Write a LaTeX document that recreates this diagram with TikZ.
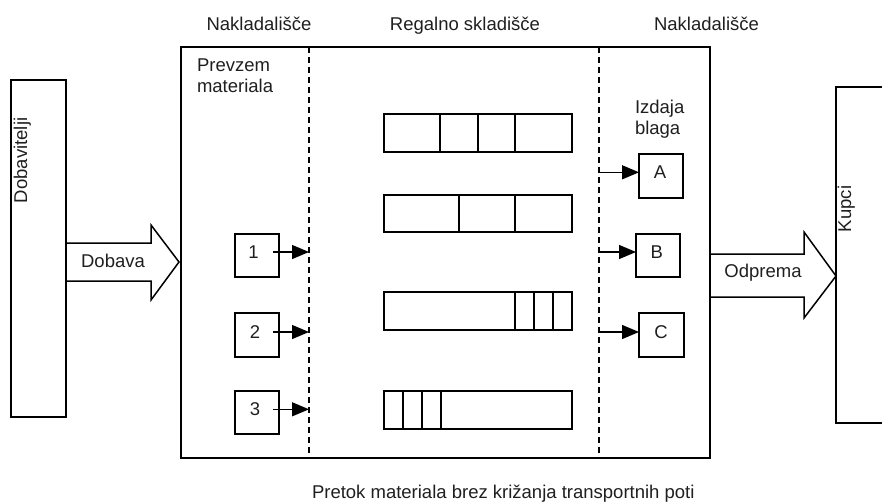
\documentclass[tikz,border=0pt]{standalone}
\usepackage{fontspec}
\setmainfont{Liberation Sans}
\usetikzlibrary{arrows.meta,calc}
\begin{document}
\begin{tikzpicture}[x=1pt,y=-1pt,
  box/.style={draw, line width=1.5pt, inner sep=0pt, outer sep=0pt},
  lbl/.style={inner sep=0pt, outer sep=0pt, font=\fontsize{18.5}{21}\selectfont, text=black!88},
  sepline/.style={line width=1.5pt, dash pattern=on 6pt off 4pt},
  arr/.style={line width=1.3pt, -{Triangle[length=17pt,width=14pt]}},
  blockarrow/.style={line width=1.5pt, line join=miter}]
\useasboundingbox (0,0) rectangle (882,503);
\clip (0,0) rectangle (882,503);
% outer boxes
\node[box, minimum width=55pt, minimum height=337pt] (dob) at (38.5,248.5) {};
\node[box, minimum width=529pt, minimum height=411pt] (main) at (445.5,252.5) {};
\node[box, minimum width=64pt, minimum height=336pt] (kup) at (868,255) {};
% dashed separators
\coordinate (d1t) at (309,47); \coordinate (d1b) at (309,458);
\coordinate (d2t) at (599,47); \coordinate (d2b) at (599,458);
\draw[sepline] (d1t) -- (d1b);
\draw[sepline] (d2t) -- (d2b);
% headings
\node[lbl, anchor=base] (hl) at (259,31) {Nakladališče};
\node[lbl, anchor=base] (hm) at (465,31) {Regalno skladišče};
\node[lbl, anchor=base] (hr) at (706.5,31) {Nakladališče};
\node[lbl, anchor=base west] (prev1) at (197,71) {Prevzem};
\node[lbl, anchor=base west] (prev2) at (197,92) {materiala};
\node[lbl, anchor=base west] (izd1) at (635,113) {Izdaja};
\node[lbl, anchor=base west] (izd2) at (635,134) {blaga};
\node[lbl, anchor=base west, rotate=90] (tdob) at (27,203) {Dobavitelji};
\node[lbl, anchor=base west, rotate=90] (tkup) at (851,232) {Kupci};
\node[lbl, anchor=base west] (foot) at (312,498) {Pretok materiala brez križanja transportnih poti};
% block arrows
\draw[blockarrow] (66,243) -- (151,243) -- (151,225) -- (179,262) -- (151,300) -- (151,281) -- (66,281);
\node[lbl, anchor=base] (tdobava) at (113,267.7) {Dobava};
\draw[blockarrow] (710,254) -- (804,254) -- (804,232) -- (836,276) -- (804,318) -- (804,297) -- (710,297);
\node[lbl, anchor=base] (todp) at (763,277) {Odprema};
% input boxes
\node[box, minimum width=44pt, minimum height=43pt] (b1) at (257,255.5) {};
\node[box, minimum width=44pt, minimum height=44pt] (b2) at (257,335) {};
\node[box, minimum width=44pt, minimum height=43pt] (b3) at (257,412.5) {};
\node[lbl] (t1) at (253.5,252) {1};
\node[lbl] (t2) at (255,332) {2};
\node[lbl] (t3) at (255,409.3) {3};
\draw[arr] ([xshift=19.5pt]t1.center) -- (t1.center -| d1t);
\draw[arr] ([xshift=18pt]t2.center) -- (t2.center -| d1t);
\draw[arr] ([xshift=18pt]t3.center) -- (t3.center -| d1t);
% output boxes
\node[box, minimum width=44pt, minimum height=44pt] (bA) at (661,176) {};
\node[box, minimum width=44pt, minimum height=43pt] (bB) at (658,255.5) {};
\node[box, minimum width=45pt, minimum height=44pt] (bC) at (661.5,335) {};
\node[lbl] (tA) at (660,172.3) {A};
\node[lbl] (tB) at (656.7,252) {B};
\node[lbl] (tC) at (661,332) {C};
\draw[arr] (tA.center -| d2t) -- (tA.center -| bA.west);
\draw[arr] (tB.center -| d2t) -- (tB.center -| bB.west);
\draw[arr] (tC.center -| d2t) -- (tC.center -| bC.west);
% shelves
\node[box, minimum width=188pt, minimum height=38pt] (s1) at (478,133) {};
\node[box, minimum width=188pt, minimum height=37pt] (s2) at (478,213.5) {};
\node[box, minimum width=188pt, minimum height=38pt] (s3) at (478,311) {};
\node[box, minimum width=188pt, minimum height=38pt] (s4) at (478,410) {};
\foreach \xx in {440,478,515} \draw[line width=1.5pt] (s1.north -| \xx,0) -- (s1.south -| \xx,0);
\foreach \xx in {459,515} \draw[line width=1.5pt] (s2.north -| \xx,0) -- (s2.south -| \xx,0);
\foreach \xx in {515,534,553} \draw[line width=1.5pt] (s3.north -| \xx,0) -- (s3.south -| \xx,0);
\foreach \xx in {403,422,441} \draw[line width=1.5pt] (s4.north -| \xx,0) -- (s4.south -| \xx,0);
\end{tikzpicture}
\end{document}
